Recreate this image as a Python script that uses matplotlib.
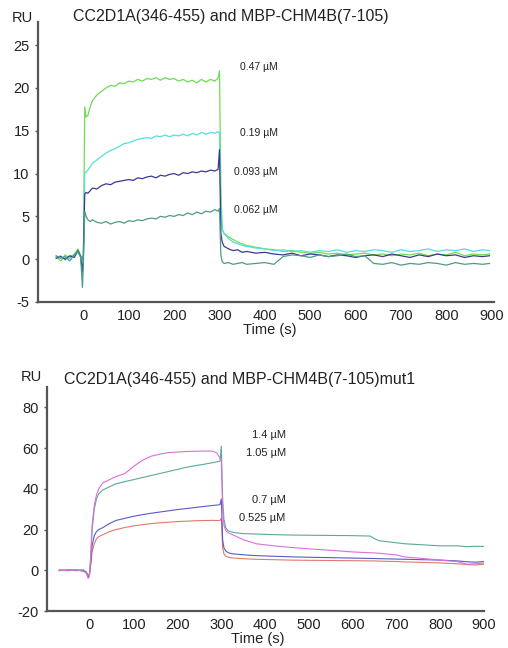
import matplotlib
matplotlib.use("Agg")
import matplotlib.pyplot as plt

plt.rcParams['font.family'] = ['Liberation Sans', 'DejaVu Sans']
plt.rcParams['axes.unicode_minus'] = False

# ---- top panel: CC2D1A(346-455) and MBP-CHM4B(7-105)
t_top = [-60, -50, -40, -30, -20, -12, -6, -2,
         0, 3, 6, 10, 15, 20,
         30, 40, 50, 60, 70, 80, 90, 100, 110, 120, 130, 140, 150, 160, 170,
         180, 190, 200, 210, 220, 230, 240, 250, 260, 270, 280, 290,
         297, 300, 303, 306, 310,
         320, 330, 340, 350, 360,
         380, 400, 420, 440, 460, 480, 500, 520, 540, 560, 580, 600, 620, 640,
         660, 680, 700, 720, 740, 760, 780, 800, 820, 840, 860, 880,
         895]

ru_047 = [0.3, -0.2, 0.5, 0.1, 0.6, 1.2, 0.4, 0.2,
          0.5, 17.8, 16.6, 16.8, 17.8, 18.5,
          19.2, 19.6, 20.0, 20.3, 20.2, 20.6, 20.5, 20.8, 20.7, 21.0, 20.8, 21.1, 21.0, 21.2,
          20.9, 21.2, 21.0, 21.1, 20.8, 21.0, 20.7, 20.9, 20.6, 21.0, 20.7, 21.0, 20.8,
          21.2, 22.0, 8.0, 3.5, 3.0,
          2.6, 2.3, 2.0, 1.8, 1.6,
          1.4, 1.2, 1.1, 0.9, 1.0, 0.8, 0.7, 0.8, 0.6, 0.7, 0.5, 0.6, 0.7, 0.5,
          0.6, 0.4, 0.6, 0.5, 0.7, 0.4, 0.6, 0.5, 0.8, 0.4, 0.6, 0.5,
          0.6]
ru_019 = [0.2, 0.4, -0.1, 0.3, 0.5, 0.8, 0.3, 0.0,
          0.3, 10.0, 10.2, 10.4, 10.8, 11.2,
          11.6, 12.0, 12.4, 12.7, 12.9, 13.2, 13.5, 13.6, 13.8, 14.0, 14.1, 14.2, 14.1, 14.4,
          14.3, 14.5, 14.3, 14.5, 14.4, 14.6, 14.4, 14.7, 14.5, 14.8, 14.6, 14.8, 14.7,
          14.9, 14.8, 6.0, 3.5, 3.0,
          2.4, 2.0, 1.8, 1.6, 1.5,
          1.3, 1.2, 1.0, 1.1, 0.9, 1.0, 0.8, 1.0, 0.9, 1.1, 0.8, 1.0, 0.9, 1.1,
          1.0, 0.8, 1.1, 0.9, 1.0, 1.2, 0.9, 1.1, 1.0, 1.2, 0.9, 1.1,
          1.0]
ru_0093 = [0.1, 0.3, 0.0, 0.4, 0.2, 1.0, 0.3, -1.5,
           0.5, 7.6, 7.8, 7.7, 8.0, 8.3,
           8.2, 8.6, 8.8, 8.7, 9.0, 9.1, 9.2, 9.3, 9.2, 9.5, 9.4, 9.6, 9.7, 9.5,
           9.8, 9.7, 9.9, 10.0, 9.8, 10.1, 10.0, 10.2, 10.1, 10.3, 10.2, 10.4, 10.3,
           10.5, 12.8, 3.0, 2.0, 1.5,
           1.2, 1.0, 1.1, 0.8, 0.9,
           0.7, 0.8, 0.6, 0.5, 0.7, 0.4, 0.6, 0.5, 0.3, 0.5, 0.4, 0.2, 0.4, 0.5,
           0.3, 0.6, 0.4, 0.2, 0.5, 0.3, 0.6, 0.4, 0.5, 0.2, 0.4, 0.3,
           0.4]
ru_0062 = [0.4, 0.1, 0.3, -0.2, 0.5, 0.9, 0.2, -3.3,
           -0.5, 5.6, 5.0, 4.6, 4.4, 4.6,
           4.3, 4.2, 4.4, 4.1, 4.3, 4.4, 4.2, 4.5, 4.4, 4.6, 4.5, 4.7, 4.8, 4.7,
           5.0, 4.9, 5.1, 5.0, 5.2, 5.1, 5.4, 5.2, 5.5, 5.3, 5.6, 5.5, 5.8,
           5.6, 5.9, 0.5, -0.3, -0.5,
           -0.4, -0.6, -0.5, -0.4, -0.6,
           -0.5, -0.4, -0.6, 0.3, 0.5, 0.4, 0.2, 0.5, 0.3, 0.4, 0.6, 0.3, 0.4, -0.5,
           -0.6, -0.4, -0.7, -0.5, -0.6, -0.4, -0.5, -0.7, -0.4, -0.6, -0.5, -0.6,
           -0.5]

top_series = [ru_047, ru_019, ru_0093, ru_0062]
top_labels = ['0.47 µM', '0.19 µM', '0.093 µM', '0.062 µM']
top_colors = ['#6edc55', '#55dede', '#3c3a8e', '#4e9a8a']
top_label_y = [22.4, 14.7, 10.2, 5.8]

# ---- bottom panel: CC2D1A(346-455) and MBP-CHM4B(7-105)mut1
t_bot = [-70, -50, -30, -15, -8, -4, -1,
         2, 5, 10, 15, 20,
         30, 45, 60, 80,
         100, 120, 140, 160, 180, 200, 220, 240, 260, 280,
         290, 297, 300, 303, 306, 310, 315, 320,
         330, 350, 380, 420, 460, 500, 550, 600, 640, 650, 660, 700, 720, 760,
         800, 840, 860, 880, 900]

ru_14 = [0.0, -0.2, 0.3, -0.5, -1.5, -4.0, -3.0,
         8.0, 22.0, 32.0, 37.0, 40.0,
         43.0, 44.5, 46.0, 47.5,
         51.0, 54.0, 56.0, 57.0, 57.8, 58.0, 58.3, 58.4, 58.5, 58.5,
         57.5, 55.0, 54.0, 30.0, 22.0, 19.5, 18.5, 18.0,
         17.0, 15.0, 13.0, 12.0, 11.2, 10.5, 9.8, 9.0, 8.6, 8.5, 8.4, 7.5, 6.5, 5.8,
         5.0, 4.2, 3.0, 3.2, 3.6]
ru_105 = [0.2, 0.0, -0.2, 0.3, -1.0, -3.0, -2.0,
          6.0, 20.0, 30.0, 35.0, 37.5,
          39.5, 41.0, 42.5, 43.5,
          44.5, 45.5, 46.5, 47.5, 48.5, 49.5, 50.5, 51.3, 52.0, 52.8,
          53.2, 53.5, 61.0, 35.0, 25.0, 21.0, 19.5, 19.0,
          18.5, 18.0, 17.8, 17.5, 17.3, 17.2, 17.1, 17.0, 16.8, 15.5, 14.5, 13.5, 13.0, 12.5,
          12.0, 12.0, 11.6, 11.8, 11.7]
ru_07 = [-0.2, 0.2, 0.0, -0.3, -1.0, -3.5, -2.0,
         4.0, 12.0, 17.0, 19.0, 20.0,
         21.0, 23.0, 24.5, 25.5,
         26.5, 27.3, 28.0, 28.6, 29.2, 29.8, 30.3, 30.8, 31.3, 31.8,
         32.0, 32.2, 35.0, 15.0, 11.0, 9.5, 8.8, 8.3,
         8.0, 7.6, 7.2, 6.9, 6.6, 6.4, 6.2, 6.0, 5.8, 5.8, 5.7, 5.5, 5.4, 5.2,
         5.0, 4.6, 4.2, 4.0, 4.3]
ru_0525 = [0.1, -0.1, 0.2, 0.0, -0.8, -2.5, -1.5,
           3.0, 9.0, 13.0, 15.5, 16.5,
           17.5, 19.0, 20.0, 21.0,
           21.8, 22.4, 22.9, 23.3, 23.6, 23.9, 24.1, 24.3, 24.4, 24.5,
           24.4, 24.5, 25.5, 11.0, 8.0, 7.0, 6.5, 6.2,
           6.0, 5.7, 5.4, 5.2, 5.0, 4.9, 4.8, 4.7, 4.6, 4.6, 4.5, 4.3, 4.1, 3.9,
           3.6, 3.2, 2.8, 2.6, 3.0]

bot_series = [ru_0525, ru_07, ru_105, ru_14]
bot_colors = ['#e07a6c', '#5a5ac8', '#5aaa98', '#dc6edc']
bot_labels = ['1.4 µM', '1.05 µM', '0.7 µM', '0.525 µM']
bot_label_y = [66.5, 57.5, 34.5, 25.5]

fig = plt.figure(figsize=(5.08, 6.48), dpi=100)
ax1 = fig.add_axes([0.0748, 0.534, 0.8976, 0.432])
ax2 = fig.add_axes([0.0925, 0.057, 0.8605, 0.346])

for ax in (ax1, ax2):
    ax.spines['top'].set_visible(False)
    ax.spines['right'].set_visible(False)
    for s in ('left', 'bottom'):
        ax.spines[s].set_color('#555555')
        ax.spines[s].set_linewidth(1.6)
    ax.tick_params(axis='y', length=2, width=1, color='#555555', labelsize=10.5,
                   labelcolor='#222222', pad=4)
    ax.tick_params(axis='x', length=0, labelsize=10.5, labelcolor='#222222', pad=5)
    ax.set_xticks(range(0, 1000, 100))

for vals, c in zip(top_series, top_colors):
    ax1.plot(t_top, vals, color=c, linewidth=0.9)
for lab, y in zip(top_labels, top_label_y):
    ax1.text(428, y, lab, fontsize=7.5, ha='right', va='center', color='#222222')
ax1.set_xlim(-100, 905)
ax1.set_ylim(-5, 27.7)
ax1.set_yticks(range(-5, 30, 5))
ax1.set_xlabel('Time (s)', fontsize=10.5, color='#222222')
ax1.xaxis.set_label_coords(0.509, -0.075)

for vals, c in zip(bot_series, bot_colors):
    ax2.plot(t_bot, vals, color=c, linewidth=0.8)
for lab, y in zip(bot_labels, bot_label_y):
    ax2.text(447, y, lab, fontsize=8, ha='right', va='center', color='#222222')
ax2.set_xlim(-98, 900)
ax2.set_ylim(-20, 90)
ax2.set_yticks(range(-20, 100, 20))
ax2.set_xlabel('Time (s)', fontsize=10.5, color='#222222')
ax2.xaxis.set_label_coords(0.483, -0.094)

fig.text(0.045, 0.972, 'RU', fontsize=10.5, ha='center', va='center', color='#222222')
fig.text(0.455, 0.974, 'CC2D1A(346-455) and MBP-CHM4B(7-105)', fontsize=11.5,
         ha='center', va='center', color='#222222')
fig.text(0.061, 0.418, 'RU', fontsize=10.5, ha='center', va='center', color='#222222')
fig.text(0.472, 0.414, 'CC2D1A(346-455) and MBP-CHM4B(7-105)mut1', fontsize=11.5,
         ha='center', va='center', color='#222222')

fig.savefig('out.png', dpi=100)
